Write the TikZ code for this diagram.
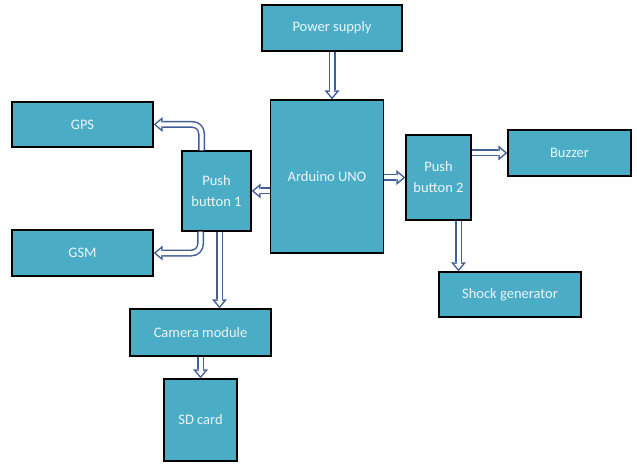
\documentclass[tikz,border=0pt]{standalone}
\usepackage{fontspec}
\setmainfont{Carlito}
\usetikzlibrary{arrows.meta,positioning}
\definecolor{blkfill}{RGB}{75,172,198}
\definecolor{arrline}{RGB}{66,94,150}
\definecolor{blktext}{RGB}{236,246,250}
\begin{document}
\begin{tikzpicture}[x=1pt,y=-1pt,
			blk/.style={rectangle,draw=black,line width=1.3pt,fill=blkfill,text=blktext,inner sep=0pt,align=center,font=\fontsize{14.5}{21}\selectfont},
			dbl/.style={draw=white,line width=4pt,-{Triangle[width=8.6pt,length=5.2pt,line width=0pt]},shorten >=2.3pt,
				preaction={draw=arrline,line width=7pt,-{Triangle[width=15pt,length=9pt,line width=0pt]},shorten >=0pt}}]
		\useasboundingbox (0,0) rectangle (637,465);
		\path 	(332,28) 	node 	(pwr) [blk, minimum width=140pt, minimum height=46pt] {Power supply}
		        (327,176.5) node 	(ard) [blk, minimum width=113pt, minimum height=153pt] {Arduino UNO}
		        (82.5,124.5) node 	(gps) [blk, minimum width=141pt, minimum height=45pt] {GPS}
		        (82.5,253) 	node 	(gsm) [blk, minimum width=141pt, minimum height=46pt] {GSM}
		        (216.5,191) node 	(pb1) [blk, minimum width=69pt, minimum height=80pt] {Push\\button 1}
		        (438.5,177.5) node 	(pb2) [blk, minimum width=65pt, minimum height=85pt] {Push\\button 2}
		        (569.5,153) node 	(buz) [blk, minimum width=123pt, minimum height=46pt] {Buzzer}
		        (510,294.5) node 	(shk) [blk, minimum width=142pt, minimum height=45pt] {Shock generator}
		        (200.5,332.5) node 	(cam) [blk, minimum width=141pt, minimum height=47pt] {Camera module}
		        (200.5,420) node 	(sd) [blk, minimum width=73pt, minimum height=82pt] {SD card};
		\coordinate (p1n) at ([xshift=-15pt]pb1.north);
		\coordinate (p1s) at ([xshift=-16pt]pb1.south);
		\coordinate (p1c) at ([xshift=3pt]pb1.south);
		\coordinate (p2s) at ([xshift=20pt]pb2.south);
		\draw [dbl] (pwr.south) -- (pwr.south |- ard.north);
		\draw [dbl] (ard.west |- pb1) -- (pb1.east);
		\draw [dbl] (ard.east |- pb2) -- (pb2.west);
		\draw [dbl] (pb2.east |- buz) -- (buz.west);
		\draw [dbl] (p2s) -- (p2s |- shk.north);
		\draw [dbl,rounded corners=9pt] (p1n) |- (gps.east);
		\draw [dbl,rounded corners=9pt] (p1s) |- (gsm.east);
		\draw [dbl] (p1c) -- (p1c |- cam.north);
		\draw [dbl] (cam.south) -- (sd.north);
	\end{tikzpicture}
\end{document}
